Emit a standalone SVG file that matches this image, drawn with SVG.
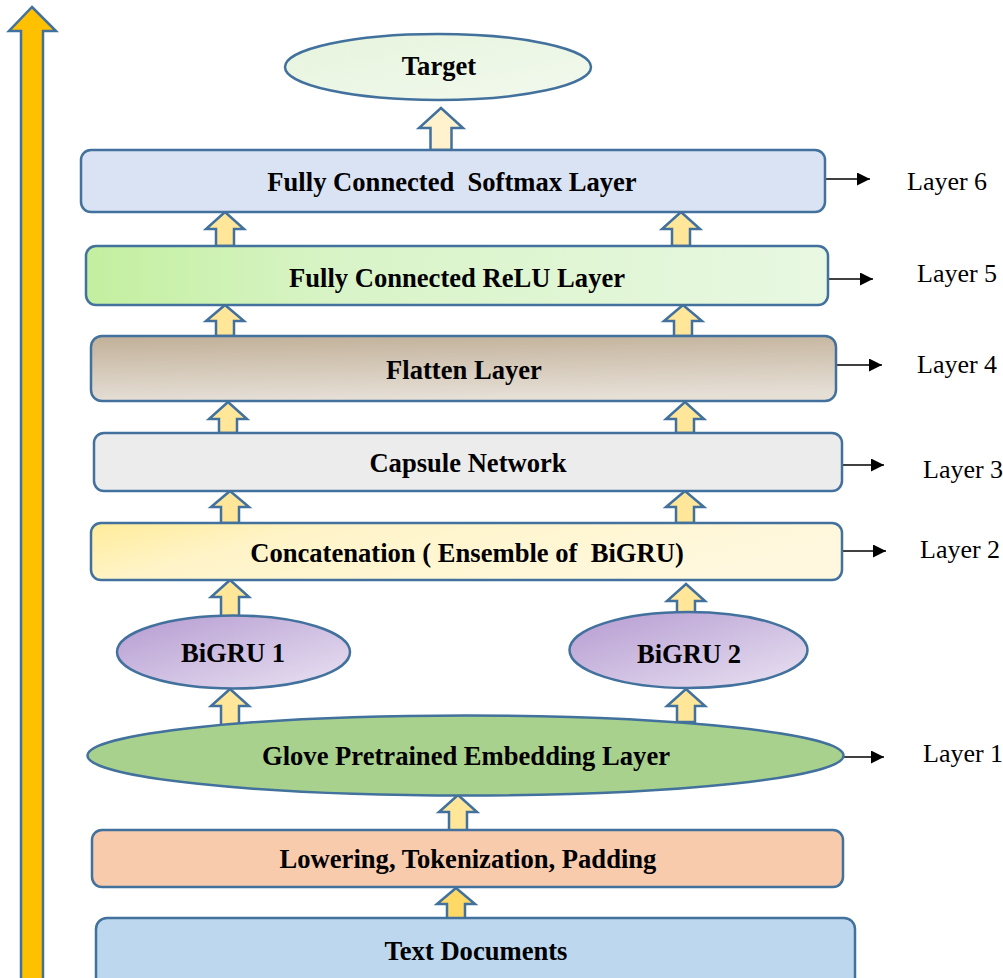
<svg xmlns="http://www.w3.org/2000/svg" width="1003" height="978" viewBox="0 0 1003 978">
<defs>
  <linearGradient id="gRelu" x1="0" y1="0" x2="1" y2="0">
    <stop offset="0" stop-color="#c3ef9f"/>
    <stop offset="0.35" stop-color="#d9f4c8"/>
    <stop offset="1" stop-color="#e8f8e2"/>
  </linearGradient>
  <linearGradient id="gFlat" x1="0" y1="0" x2="0.15" y2="1">
    <stop offset="0" stop-color="#c1b098"/>
    <stop offset="1" stop-color="#e6dfd6"/>
  </linearGradient>
  <linearGradient id="gConcat" x1="0" y1="0" x2="1" y2="0.3">
    <stop offset="0" stop-color="#ffec9a"/>
    <stop offset="0.3" stop-color="#fff4c8"/>
    <stop offset="1" stop-color="#fff8de"/>
  </linearGradient>
  <linearGradient id="gBigru" x1="0" y1="0" x2="1" y2="1">
    <stop offset="0" stop-color="#b59bd1"/>
    <stop offset="1" stop-color="#e9e2f2"/>
  </linearGradient>
  <linearGradient id="gTarget" x1="0" y1="0" x2="1" y2="1">
    <stop offset="0" stop-color="#e6f4dc"/>
    <stop offset="1" stop-color="#f2f9ee"/>
  </linearGradient>
  <marker id="ah" viewBox="0 0 10 10" refX="10" refY="5" markerWidth="15" markerHeight="13" markerUnits="userSpaceOnUse" orient="auto">
    <path d="M0,0 L10,5 L0,10 Z" fill="#000"/>
  </marker>
</defs>
<style>
  .node { stroke: #41719c; stroke-width: 2.5; }
  .blk { stroke: #41719c; stroke-width: 2.5; fill: #ffe699; stroke-linejoin: miter; }
  text { font-family: 'Liberation Serif', 'DejaVu Serif', serif; fill: #000; }
  .lbl { font-weight: bold; font-size: 26.6px; text-anchor: middle; white-space: pre; }
  .lay { font-size: 26px; }
  .lline { stroke: #000; stroke-width: 1.5; fill: none; marker-end: url(#ah); }
</style>

<!-- big side arrow -->
<g id="side-arrow">
  <path d="M32,7 L56,31 L43,31 L43,985 L21,985 L21,31 L9,31 Z" fill="#ffc000" stroke="#41719c" stroke-width="2.5"/>
</g>

<g id="connectors">
  <path class="blk" style="fill:#fff2cc" d="M441,108 L463,128 L451.5,128 L451.5,150 L430.5,150 L430.5,128 L419,128 Z"/>
  <path class="blk" d="M225,212 L244,229 L234,229 L234,246 L216,246 L216,229 L206,229 Z"/>
  <path class="blk" d="M681,212 L700,229 L690,229 L690,246 L672,246 L672,229 L662,229 Z"/>
  <path class="blk" d="M225,305 L244,321 L234,321 L234,336 L216,336 L216,321 L206,321 Z"/>
  <path class="blk" d="M683,305 L702,321 L692,321 L692,336 L674,336 L674,321 L664,321 Z"/>
  <path class="blk" d="M228,402 L247,419 L237,419 L237,433 L219,433 L219,419 L209,419 Z"/>
  <path class="blk" d="M685,402 L704,419 L694,419 L694,433 L676,433 L676,419 L666,419 Z"/>
  <path class="blk" d="M230,491 L249,507 L239,507 L239,523 L221,523 L221,507 L211,507 Z"/>
  <path class="blk" d="M685,491 L704,507 L694,507 L694,523 L676,523 L676,507 L666,507 Z"/>
  <path class="blk" d="M230,580 L249,597 L239,597 L239,617 L221,617 L221,597 L211,597 Z"/>
  <path class="blk" d="M686,584 L705,601 L695,601 L695,614 L677,614 L677,601 L667,601 Z"/>
  <path class="blk" d="M230,689 L249,706 L239,706 L239,727 L221,727 L221,706 L211,706 Z"/>
  <path class="blk" d="M686,689 L705,706 L695,706 L695,722 L677,722 L677,706 L667,706 Z"/>
  <path class="blk" d="M458,795 L477,812 L467,812 L467,831 L449,831 L449,812 L439,812 Z"/>
  <path class="blk" style="fill:#ffd966" d="M456,888 L475,904 L465,904 L465,919 L447,919 L447,904 L437,904 Z"/>
  <line class="lline" x1="825" y1="179" x2="870" y2="179"/>
  <line class="lline" x1="823" y1="279" x2="873" y2="279"/>
  <line class="lline" x1="836" y1="365" x2="882" y2="365"/>
  <line class="lline" x1="842" y1="465" x2="884" y2="465"/>
  <line class="lline" x1="843" y1="551" x2="886" y2="551"/>
  <line class="lline" x1="840" y1="757" x2="884" y2="757"/>
</g>

<g id="target">
  <ellipse class="node" cx="438" cy="67" rx="153" ry="33" fill="url(#gTarget)"/>
  <text class="lbl" x="439" y="75">Target</text>
</g>
<g id="softmax">
  <rect class="node" x="81" y="150" width="744" height="62" rx="10" fill="#dae3f3"/>
  <text class="lbl" x="452" y="191">Fully Connected  Softmax Layer</text>
</g>
<g id="relu">
  <rect class="node" x="86" y="246" width="742" height="59" rx="10" fill="url(#gRelu)"/>
  <text class="lbl" x="457" y="287">Fully Connected ReLU Layer</text>
</g>
<g id="flatten">
  <rect class="node" x="91" y="336" width="745" height="65" rx="11" fill="url(#gFlat)"/>
  <text class="lbl" x="464" y="379">Flatten Layer</text>
</g>
<g id="capsule">
  <rect class="node" x="94" y="433" width="748" height="58" rx="10" fill="#ececec"/>
  <text class="lbl" x="468" y="472">Capsule Network</text>
</g>
<g id="concat">
  <rect class="node" x="91" y="523" width="751" height="57" rx="10" fill="url(#gConcat)"/>
  <text class="lbl" x="467" y="562">Concatenation ( Ensemble of  BiGRU)</text>
</g>
<g id="bigru1">
  <ellipse class="node" cx="233.5" cy="652" rx="116.5" ry="36.5" fill="url(#gBigru)"/>
  <text class="lbl" x="233" y="662">BiGRU 1</text>
</g>
<g id="bigru2">
  <ellipse class="node" cx="688.5" cy="650" rx="119" ry="38" fill="url(#gBigru)"/>
  <text class="lbl" x="689" y="663">BiGRU 2</text>
</g>
<g id="glove">
  <ellipse class="node" cx="465.5" cy="755.5" rx="378" ry="40" fill="#a9d18e"/>
  <text class="lbl" x="466" y="765">Glove Pretrained Embedding Layer</text>
</g>
<g id="lowering">
  <rect class="node" x="92" y="830" width="751" height="57" rx="10" fill="#f8cbad"/>
  <text class="lbl" x="468" y="868">Lowering, Tokenization, Padding</text>
</g>
<g id="textdocs">
  <rect class="node" x="96" y="918" width="759" height="72" rx="11" fill="#bdd7ee"/>
  <text class="lbl" x="476" y="960">Text Documents</text>
</g>

<g id="layer-labels">
  <text class="lay" x="907" y="190">Layer 6</text>
  <text class="lay" x="917" y="282">Layer 5</text>
  <text class="lay" x="917" y="373">Layer 4</text>
  <text class="lay" x="923" y="478">Layer 3</text>
  <text class="lay" x="920" y="558">Layer 2</text>
  <text class="lay" x="923" y="762">Layer 1</text>
</g>
</svg>
